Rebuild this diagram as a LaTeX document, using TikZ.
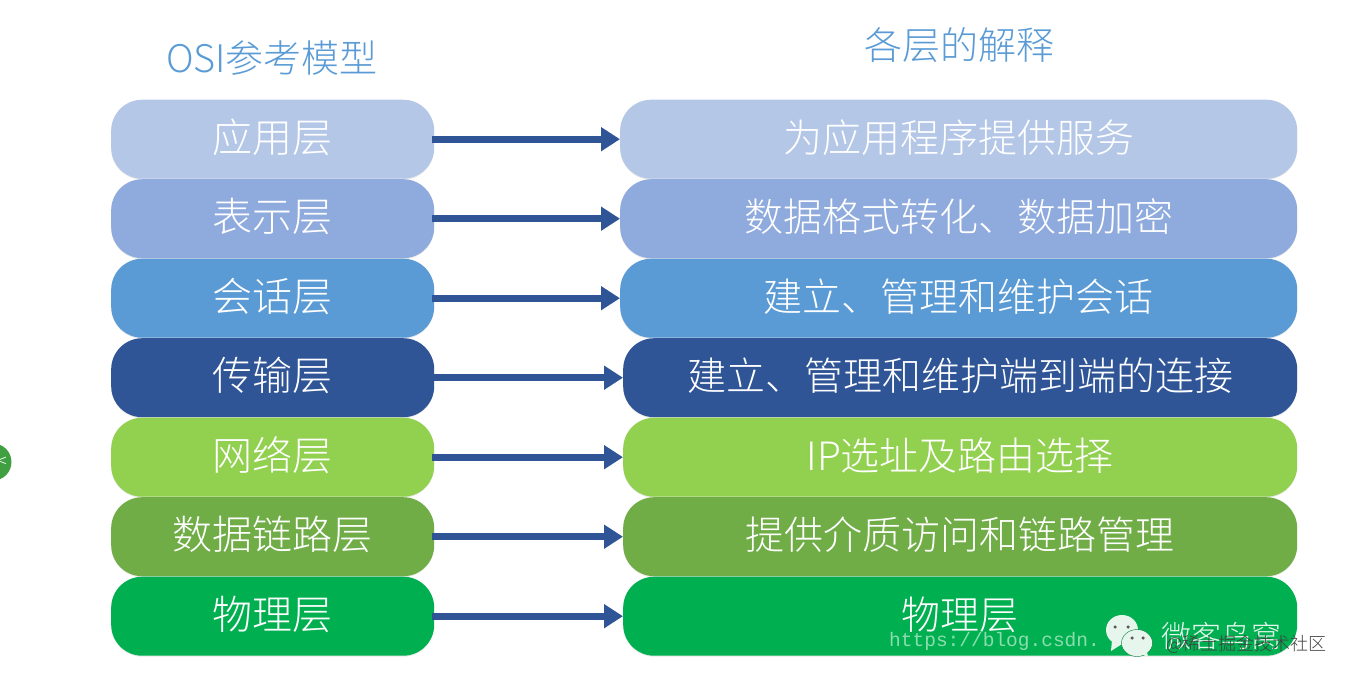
\documentclass[tikz,border=0pt]{standalone}
\usepackage{fontspec}
\setmainfont{Noto Sans CJK SC}[UprightFont=* Light]
\newfontfamily\urlfont{Liberation Mono}
\usetikzlibrary{%
    arrows.meta,
    matrix,
    positioning,
    shadows
}

\definecolor{layerA}{HTML}{B4C7E7}
\definecolor{layerB}{HTML}{8FAADC}
\definecolor{layerC}{HTML}{5B9BD5}
\definecolor{layerD}{HTML}{2F5597}
\definecolor{layerE}{HTML}{92D050}
\definecolor{layerF}{HTML}{70AD47}
\definecolor{layerG}{HTML}{00B050}
\definecolor{bubble}{HTML}{E6F6EC}

\tikzset{
    layerbox/.style={rounded corners=31pt, inner sep=0pt, minimum height=79pt,
                     text=white, text height=30pt, text depth=4.4pt,
                     font=\fontsize{39}{39}\selectfont,
                     drop shadow={opacity=.18, shadow xshift=0pt, shadow yshift=-1pt}},
    narrowbox/.style={minimum width=674pt, xshift=1.5pt},
    headline/.style={text=layerC, font=\fontsize{38}{39}\selectfont, inner sep=0pt},
    layerarrow/.style={draw=layerD, line width=7pt,
                       -{Triangle[length=19pt,width=23pt]}},
    eye/.style={circle, fill=black!65, inner sep=0pt, minimum size=3.5pt}
}

\begin{document}
\begin{tikzpicture}[x=1pt, y=1pt]
    \useasboundingbox (0,0) rectangle (1348,-675);

    \matrix (layers) [matrix of nodes, ampersand replacement=\&,
                      anchor=north west, inner sep=0pt,
                      column sep=186pt, row sep=.5pt,
                      nodes={layerbox},
                      column 1/.style={nodes={minimum width=323pt, font=\fontsize{40}{40}\selectfont}},
                      column 2/.style={nodes={minimum width=677pt}},
                      row 1/.style={nodes={fill=layerA}},
                      row 2/.style={nodes={fill=layerB}},
                      row 3/.style={nodes={fill=layerC}},
                      row 4/.style={nodes={fill=layerD}},
                      row 5/.style={nodes={fill=layerE}},
                      row 6/.style={nodes={fill=layerF}},
                      row 7/.style={nodes={fill=layerG}}
                     ] at (111,-99.5) {
        应用层 \& 为应用程序提供服务\\
        %
        表示层 \& 数据格式转化、数据加密\\
        %
        会话层 \& 建立、管理和维护会话\\
        %
        传输层 \& |[narrowbox]| 建立、管理和维护端到端的连接\\
        %
        网络层 \& |[narrowbox]| IP选址及路由选择\\
        %
        数据链路层 \& |[narrowbox]| 提供介质访问和链路管理\\
        %
        物理层 \& |[narrowbox]| 物理层\\
    };

    \node[headline] (titleleft) at (272,-58) {OSI参考模型};
    \node[headline] (titleright) at (959,-45) {各层的解释};

    \foreach \Row in {1,...,7}
        \draw[layerarrow] ([xshift=-2pt]layers-\Row-1.east) to (layers-\Row-2.west);

    % page furniture on top of the picture
    \node[circle, fill=green!50!black!75, minimum size=37pt, inner sep=0pt] (sidetab) at (-7,-462) {};
    \node[text=white, font=\fontsize{18}{18}\selectfont, inner sep=0pt] (sidemark) at (2,-462) {<};

    \node[text=white!55!layerG, font=\urlfont\fontsize{19.5}{20}\selectfont,
          anchor=west, inner sep=0pt] (csdnmark) at (889,-641) {https://blog.csdn.};

    \draw[fill=bubble, draw=none] (1122,-630) ellipse (16pt and 15pt);
    \fill[bubble] (1112,-640) -- (1111,-651) -- (1122,-644) -- cycle;
    \draw[fill=bubble, draw=layerG!70!black] (1137,-643) ellipse (15.5pt and 13.5pt);
    \fill[bubble] (1141,-654) -- (1148,-657) -- (1147,-652) -- cycle;
    \foreach \X/\Y in {1115/627, 1128/627, 1132/638, 1143/638}
        \node[eye] at (\X,-\Y) {};

    \node[text=white!90!layerG, font=\fontsize{30}{30}\selectfont, inner sep=0pt] (wxmark) at (1221,-636) {微客鸟窝};
    \node[text=black!75, font=\fontsize{18}{18}\selectfont, inner sep=0pt, anchor=east] (juejinmark) at (1327,-644) {@稀土掘金技术社区};
\end{tikzpicture}
\end{document}
